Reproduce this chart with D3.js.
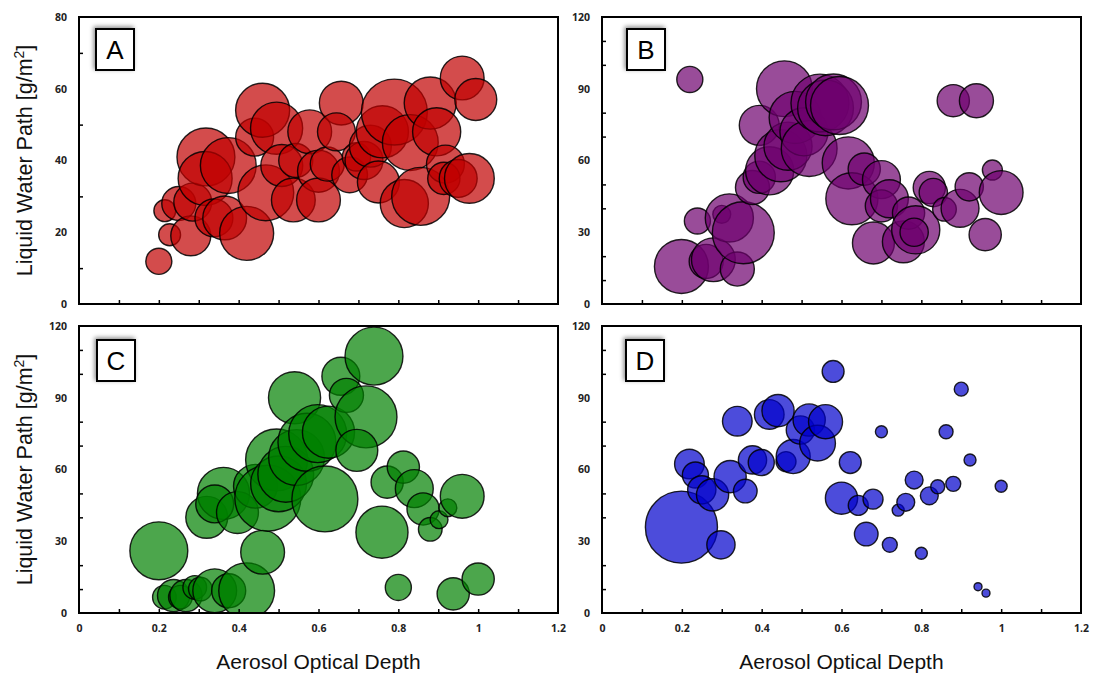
<!DOCTYPE html>
<html>
<head>
<meta charset="utf-8">
<script src="https://cdn.jsdelivr.net/npm/d3@7"></script>
<style>
  html, body { margin: 0; padding: 0; background: #fff; }
  svg { display: block; }
</style>
</head>
<body>
<svg id="chart" width="1096" height="675"></svg>
<script>
// Aerosol optical depth vs. liquid water path, four regimes (A–D).
// Each bubble: [AOD, LWP, sample weight]; bubble area ∝ weight.

const aodTicks = [0, 0.2, 0.4, 0.6, 0.8, 1, 1.2];
const lwpTicksA = [0, 20, 40, 60, 80];
const lwpTicksBCD = [0, 30, 60, 90, 120];

const seriesA = [
  [0.20, 11.9, 17], [0.215, 26, 12], [0.227, 19.3, 12], [0.25, 28, 29],
  [0.28, 19, 40], [0.285, 28.4, 36], [0.318, 41, 84], [0.316, 35, 73],
  [0.338, 24, 36], [0.365, 24, 48], [0.374, 38.6, 78], [0.42, 19.7, 73],
  [0.44, 46.5, 36], [0.46, 54, 73], [0.495, 49, 68], [0.468, 31, 78],
  [0.508, 38.6, 44], [0.537, 29, 48], [0.543, 40, 29], [0.578, 48, 48],
  [0.60, 37, 44], [0.60, 29, 48], [0.622, 39, 29], [0.657, 56, 48],
  [0.645, 48, 36], [0.678, 36, 32], [0.695, 41, 20], [0.714, 40, 36],
  [0.73, 44, 44], [0.75, 34, 44], [0.76, 48, 68], [0.79, 53.5, 109],
  [0.83, 45, 78], [0.815, 28, 58], [0.856, 30, 84], [0.88, 56, 68],
  [0.896, 48, 58], [0.918, 39, 36], [0.914, 35, 26], [0.96, 63, 48],
  [0.994, 57, 44], [0.95, 35, 36], [0.978, 35, 62]
];

const seriesB = [
  [0.22, 93.9, 17], [0.239, 34.7, 17], [0.199, 15.7, 73], [0.261, 17.8, 29],
  [0.279, 18.5, 48], [0.30, 37.5, 8], [0.319, 36, 58], [0.339, 14.6, 29],
  [0.354, 29.8, 96], [0.377, 48.7, 29], [0.394, 74.7, 40], [0.394, 53, 26],
  [0.42, 55.7, 58], [0.457, 90, 78], [0.448, 62, 68], [0.466, 66, 58],
  [0.484, 78, 68], [0.506, 72, 58], [0.519, 65, 78], [0.546, 84, 84],
  [0.56, 82, 78], [0.58, 84.5, 78], [0.595, 83, 84], [0.617, 59, 68],
  [0.626, 44, 68], [0.657, 56.4, 26], [0.68, 25.5, 44], [0.70, 52, 36],
  [0.70, 41, 26], [0.72, 44, 36], [0.755, 26, 44], [0.768, 38, 26],
  [0.786, 31, 58], [0.782, 30, 20], [0.82, 48.7, 26], [0.83, 46.6, 20],
  [0.858, 39.6, 14], [0.88, 85, 26], [0.938, 85, 29], [0.897, 40, 36],
  [0.92, 49, 20], [0.96, 29, 26], [0.978, 56, 10], [1.0, 46.6, 48]
];

const seriesC = [
  [0.20, 26, 84], [0.214, 6.6, 14], [0.237, 7.3, 26], [0.254, 6.6, 14],
  [0.268, 7.3, 26], [0.29, 10.7, 14], [0.304, 10, 14], [0.34, 9.3, 48],
  [0.375, 9.3, 29], [0.42, 9.3, 78], [0.32, 40, 44], [0.362, 50, 68],
  [0.34, 45.6, 36], [0.397, 42, 44], [0.442, 53, 48], [0.46, 25.4, 48],
  [0.495, 64, 96], [0.473, 48, 109], [0.50, 54, 78], [0.518, 58, 78],
  [0.54, 90, 68], [0.545, 65, 78], [0.571, 71.4, 84], [0.598, 75, 84],
  [0.616, 47.7, 109], [0.625, 75.6, 68], [0.656, 99, 36], [0.67, 91, 29],
  [0.739, 107.4, 84], [0.719, 82, 96], [0.696, 68, 44], [0.759, 33.8, 68],
  [0.772, 54.7, 26], [0.8125, 61, 26], [0.84, 52, 36], [0.862, 43.5, 26],
  [0.88, 35, 14], [0.902, 39, 8], [0.924, 44, 8], [0.96, 48.8, 48],
  [0.80, 10.7, 17], [0.9375, 8, 26], [1.0, 14.2, 26]
];

const seriesD = [
  [0.199, 35.9, 130], [0.219, 62.3, 22], [0.234, 57.7, 17], [0.25, 51.5, 20],
  [0.277, 49.4, 26], [0.298, 28.5, 20], [0.321, 57, 26], [0.359, 51, 14],
  [0.339, 80.2, 22], [0.377, 64, 20], [0.399, 62.9, 17], [0.419, 83, 22],
  [0.441, 84.6, 26], [0.461, 63.3, 10], [0.479, 65.4, 29], [0.497, 76.5, 20],
  [0.519, 80.7, 26], [0.54, 71, 32], [0.56, 80, 29], [0.579, 101, 12],
  [0.622, 62.9, 12], [0.60, 48, 26], [0.642, 45, 10], [0.679, 47.6, 10],
  [0.662, 33, 14], [0.70, 75.8, 3.6], [0.721, 28.5, 5.6], [0.742, 43, 3.6],
  [0.761, 46.3, 8], [0.782, 55.6, 8], [0.80, 25, 3.6], [0.82, 49, 8],
  [0.841, 52.8, 4.9], [0.862, 75.8, 4.9], [0.88, 54, 5.6], [0.90, 93.6, 4.9],
  [0.922, 64, 3.6], [1.0, 53, 3.6], [0.942, 11, 1.6], [0.962, 8.3, 1.6]
];

const panels = [
  { id: "A", data: seriesA, yMax: 80, yTicks: lwpTicksA, yMinorStep: 10,
    fill: "#c00000", x0: 79, x1: 558, y0: 17, y1: 304, box: [96, 29],
    yTitle: true, xTitle: false },
  { id: "B", data: seriesB, yMax: 120, yTicks: lwpTicksBCD, yMinorStep: 10,
    fill: "#6e006e", x0: 602, x1: 1081, y0: 17, y1: 304, box: [627, 29],
    yTitle: false, xTitle: false },
  { id: "C", data: seriesC, yMax: 120, yTicks: lwpTicksBCD, yMinorStep: 10,
    fill: "#008000", x0: 79, x1: 558, y0: 326, y1: 613, box: [97, 340],
    yTitle: true, xTitle: true },
  { id: "D", data: seriesD, yMax: 120, yTicks: lwpTicksBCD, yMinorStep: 10,
    fill: "#0000cc", x0: 602, x1: 1081, y0: 326, y1: 613, box: [626, 340],
    yTitle: false, xTitle: true }
];

const svg = d3.select("#chart");
const defs = svg.append("defs");
const shadow = defs.append("filter").attr("id", "boxShadow")
  .attr("x", "-40%").attr("y", "-40%").attr("width", "180%").attr("height", "180%");
shadow.append("feDropShadow")
  .attr("dx", -1.5).attr("dy", -1.5).attr("stdDeviation", 2.2)
  .attr("flood-color", "#000").attr("flood-opacity", 0.45);

const size = d3.scaleSqrt().domain([0, 100]).range([0, 31.6]);
const tickFont = "'Open Sans', 'Liberation Sans', sans-serif";
const titleFont = "'Liberation Sans', Arial, sans-serif";

panels.forEach(p => {
  const x = d3.scaleLinear().domain([0, 1.2]).range([p.x0, p.x1]);
  const y = d3.scaleLinear().domain([0, p.yMax]).range([p.y1, p.y0]);
  const g = svg.append("g");

  // bubbles, clipped to the plot frame
  const clipId = "clip" + p.id;
  defs.append("clipPath").attr("id", clipId)
    .append("rect").attr("x", p.x0).attr("y", p.y0)
    .attr("width", p.x1 - p.x0).attr("height", p.y1 - p.y0);

  g.append("g").attr("clip-path", `url(#${clipId})`)
    .selectAll("circle").data(p.data).join("circle")
    .attr("cx", d => x(d[0]))
    .attr("cy", d => y(d[1]))
    .attr("r", d => size(d[2]))
    .attr("fill", p.fill)
    .attr("fill-opacity", 0.7)
    .attr("stroke", "#000")
    .attr("stroke-opacity", 0.85)
    .attr("stroke-width", 1.4);

  // minor tick marks on the inside of the frame
  const xMinor = d3.range(1, 12).map(i => i / 10);
  const yMinor = d3.range(p.yMinorStep, p.yMax, p.yMinorStep)
    .filter(v => !p.yTicks.includes(v));

  g.append("g").attr("transform", `translate(0,${p.y1})`)
    .call(d3.axisBottom(x).tickValues(xMinor).tickSize(-4).tickFormat(""))
    .call(a => a.select(".domain").remove())
    .call(a => a.selectAll("line").attr("stroke", "#000").attr("stroke-width", 1.5));

  g.append("g").attr("transform", `translate(${p.x0},0)`)
    .call(d3.axisLeft(y).tickValues(yMinor).tickSize(-4).tickFormat(""))
    .call(a => a.select(".domain").remove())
    .call(a => a.selectAll("line").attr("stroke", "#000").attr("stroke-width", 1.5));

  // y tick labels
  g.append("g").attr("transform", `translate(${p.x0},0)`)
    .call(d3.axisLeft(y).tickValues(p.yTicks).tickSize(0).tickPadding(12).tickFormat(d3.format("d")))
    .call(a => a.select(".domain").remove())
    .call(a => a.selectAll("text")
      .attr("font-family", tickFont).attr("font-weight", 700)
      .attr("font-size", 10.5).attr("fill", "#222"));

  // x tick labels on the bottom row
  if (p.xTitle) {
    g.append("g").attr("transform", `translate(0,${p.y1})`)
      .call(d3.axisBottom(x).tickValues(aodTicks).tickSize(0).tickPadding(12)
        .tickFormat(d => d3.format("~g")(d)))
      .call(a => a.select(".domain").remove())
      .call(a => a.selectAll("text")
        .attr("font-family", tickFont).attr("font-weight", 700)
        .attr("font-size", 10.5).attr("fill", "#222"));

    g.append("text")
      .attr("x", (p.x0 + p.x1) / 2).attr("y", 669)
      .attr("text-anchor", "middle")
      .attr("font-family", titleFont).attr("font-size", 21).attr("fill", "#111")
      .text("Aerosol Optical Depth");
  }

  if (p.yTitle) {
    const t = g.append("text")
      .attr("transform", `translate(32,${(p.y0 + p.y1) / 2}) rotate(-90)`)
      .attr("text-anchor", "middle")
      .attr("font-family", titleFont).attr("font-size", 21.5).attr("fill", "#111");
    t.append("tspan").text("Liquid Water Path [g/m");
    t.append("tspan").attr("font-size", 14).attr("dy", -8).text("2");
    t.append("tspan").attr("dy", 8).text("]");
  }

  // plot frame
  g.append("rect")
    .attr("x", p.x0).attr("y", p.y0)
    .attr("width", p.x1 - p.x0).attr("height", p.y1 - p.y0)
    .attr("fill", "none").attr("stroke", "#000").attr("stroke-width", 2);

  // panel letter box
  const bx = p.box[0], by = p.box[1];
  g.append("rect")
    .attr("x", bx).attr("y", by).attr("width", 38).attr("height", 41)
    .attr("fill", "#fff").attr("stroke", "#000").attr("stroke-width", 2)
    .attr("filter", "url(#boxShadow)");
  g.append("text")
    .attr("x", bx + 19).attr("y", by + 30)
    .attr("text-anchor", "middle")
    .attr("font-family", titleFont).attr("font-size", 26).attr("fill", "#000")
    .text(p.id);
});
</script>
</body>
</html>
